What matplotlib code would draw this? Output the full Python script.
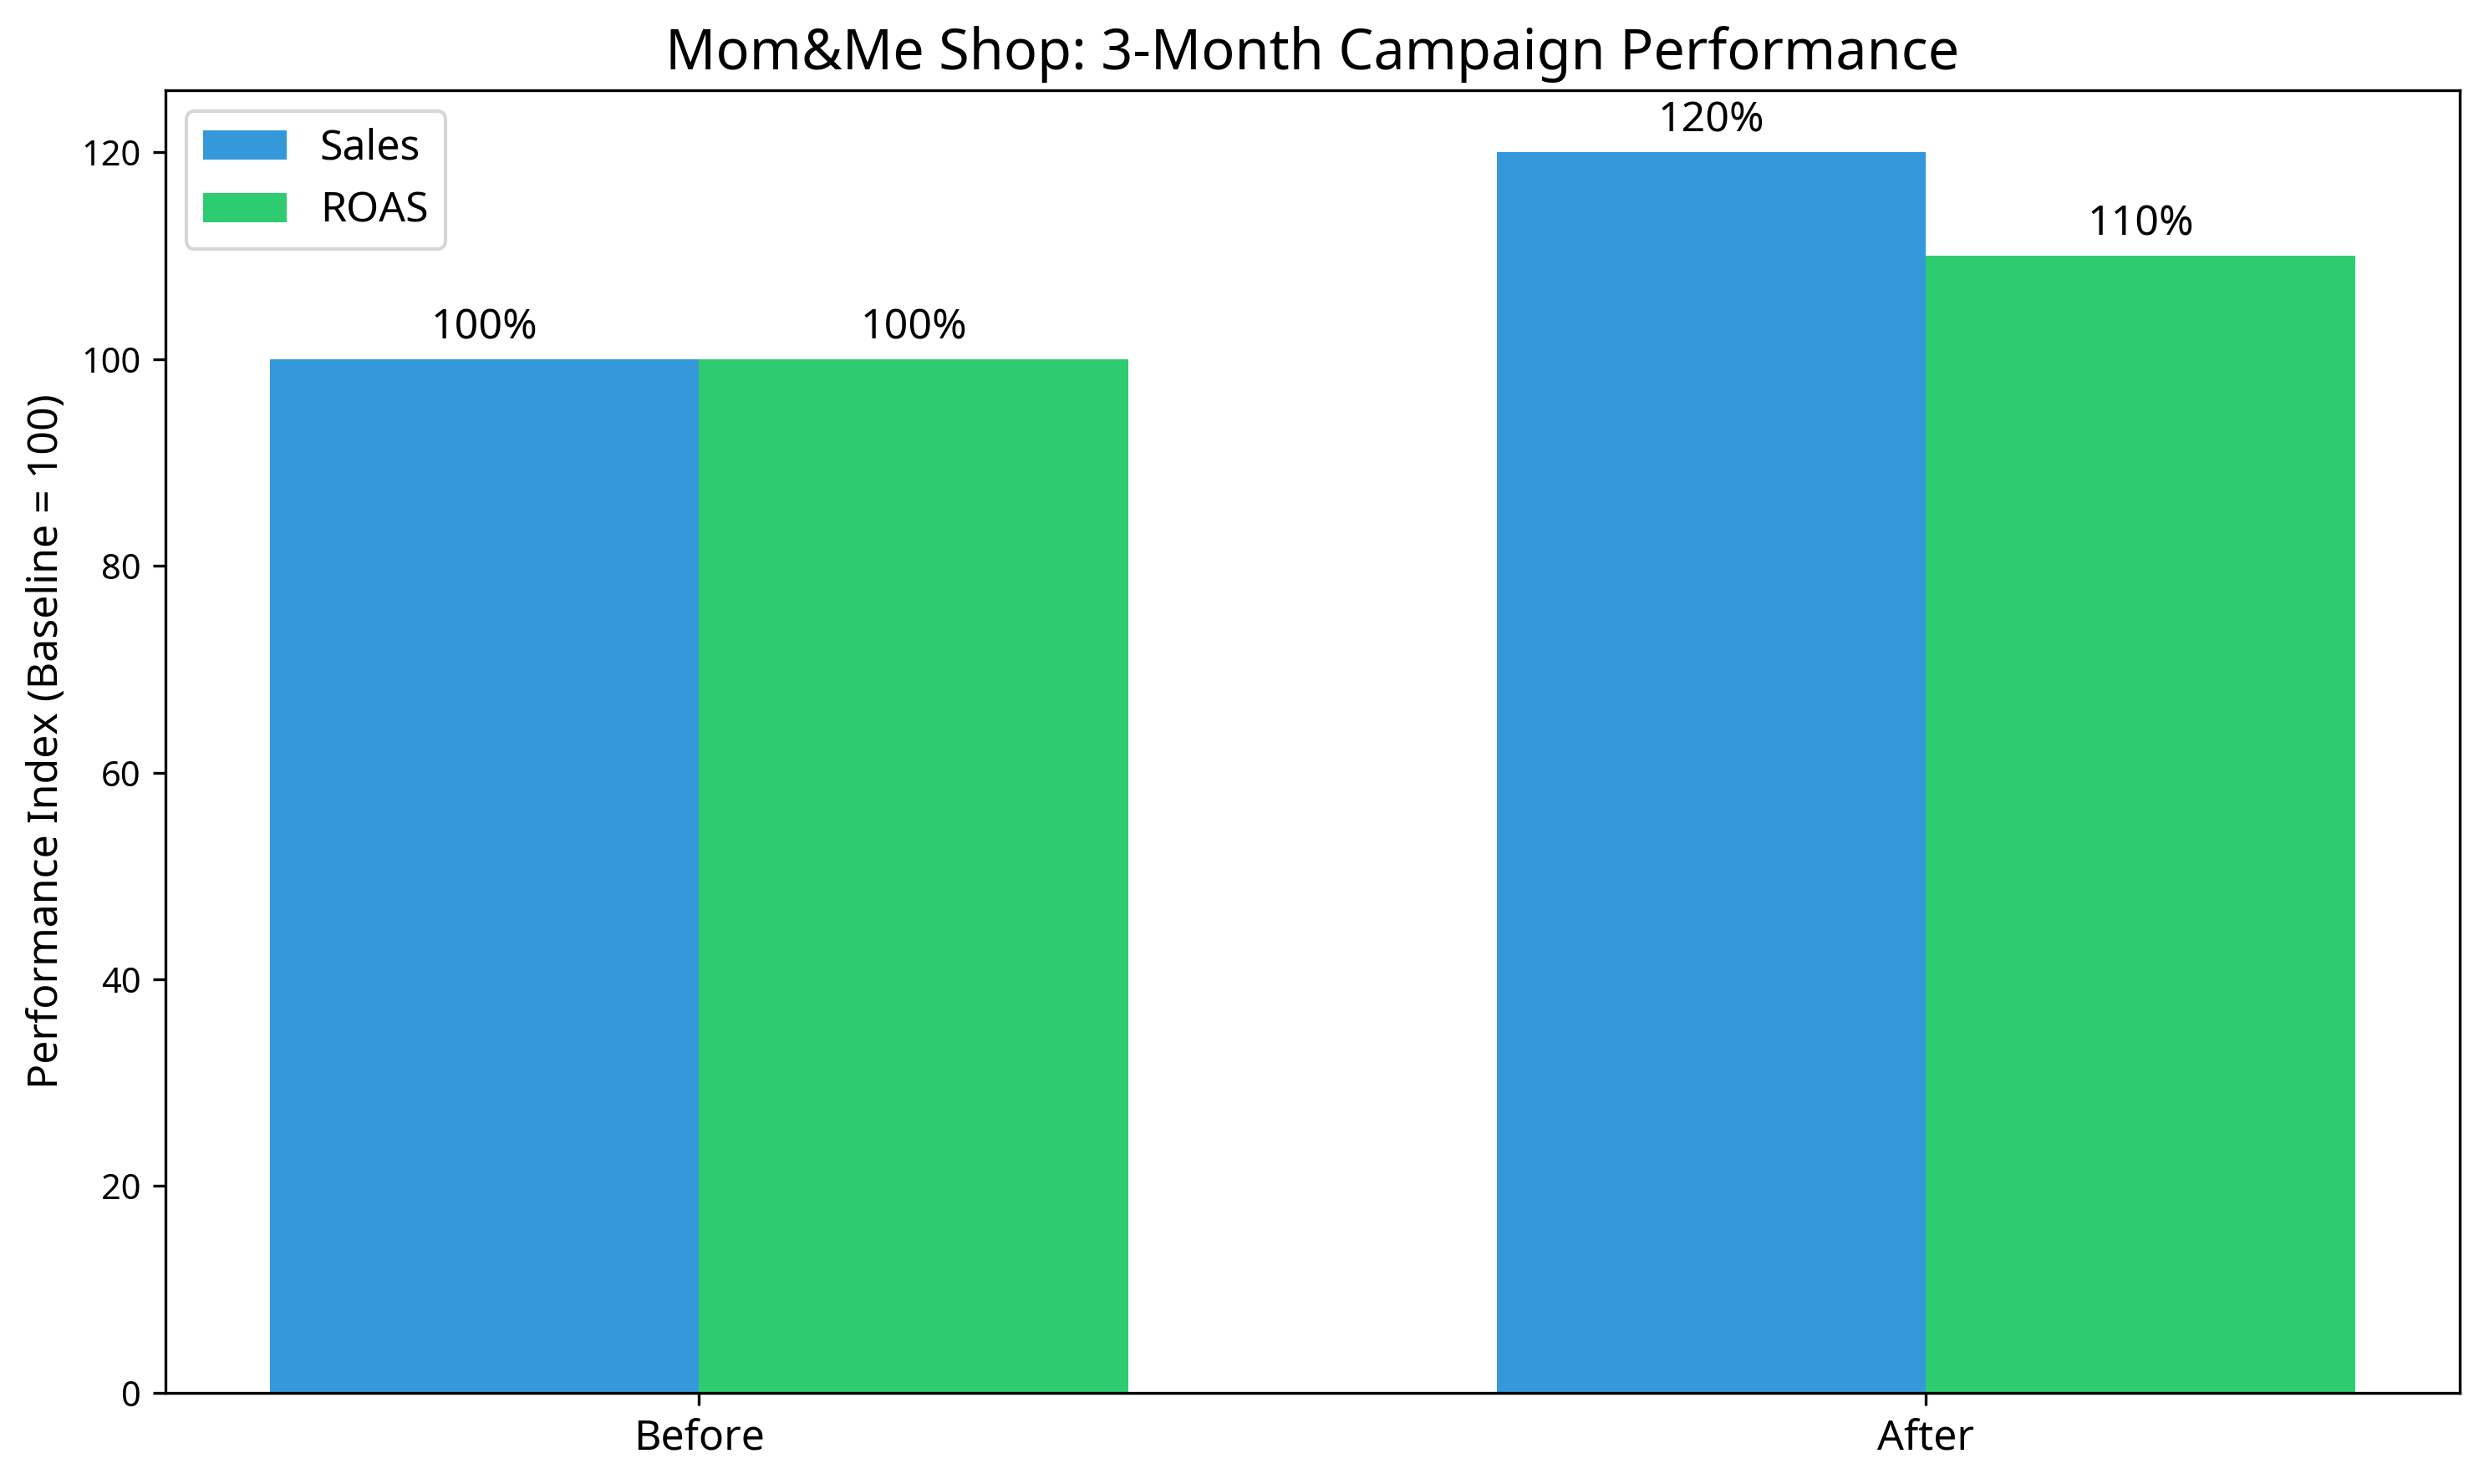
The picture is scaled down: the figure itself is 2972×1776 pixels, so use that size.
import matplotlib.pyplot as plt
import numpy as np

plt.rcParams['font.family'] = ['Noto Sans', 'DejaVu Sans']

periods = ['Before', 'After']
sales = [100, 120]
roas = [100, 110]

x = np.arange(len(periods))
width = 0.35

fig = plt.figure(figsize=(2972 / 300, 1776 / 300), dpi=300)
ax = fig.add_axes([0.0666, 0.0614, 0.9236, 0.8778])

bars1 = ax.bar(x - width / 2, sales, width, label='Sales', color='#3498db')
bars2 = ax.bar(x + width / 2, roas, width, label='ROAS', color='#2ecc71')

ax.set_title('Mom&Me Shop: 3-Month Campaign Performance', fontsize=16)
ax.set_ylabel('Performance Index (Baseline = 100)', fontsize=12)
ax.set_xticks(x)
ax.set_xticklabels(periods, fontsize=12)
ax.legend(loc='upper left', fontsize=12)

for bars in (bars1, bars2):
    for bar in bars:
        h = bar.get_height()
        ax.annotate(f'{h:.0f}%',
                    xy=(bar.get_x() + bar.get_width() / 2, h),
                    xytext=(0, 3), textcoords='offset points',
                    ha='center', va='bottom', fontsize=12)

plt.savefig('out.png', dpi=300)
